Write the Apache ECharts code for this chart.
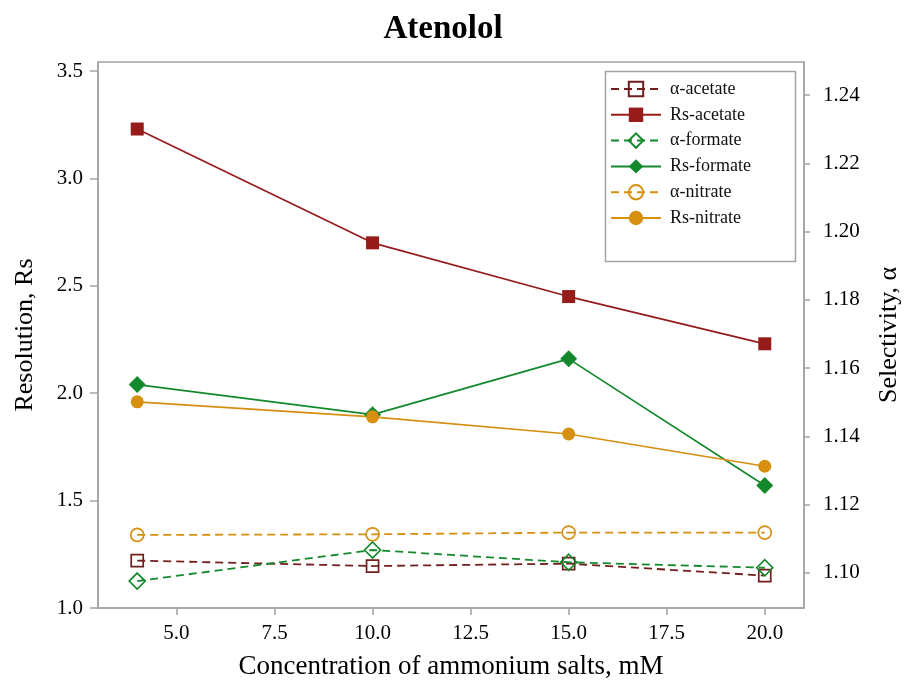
<!DOCTYPE html>
<html>
<head>
<meta charset="utf-8">
<script src="https://cdn.jsdelivr.net/npm/echarts@6/dist/echarts.min.js"></script>
<style>
  html, body { margin: 0; padding: 0; background: #fff; }
  #chart { width: 905px; height: 684px; }
</style>
</head>
<body>
<div id="chart"></div>
<script>
// Salt concentration (mM)
const concentrations = [4, 10, 15, 20];

// Resolution (left axis)
const rsAcetate = [3.23, 2.70, 2.45, 2.23];
const rsFormate = [2.04, 1.90, 2.16, 1.57];
const rsNitrate = [1.96, 1.89, 1.81, 1.66];

// Selectivity (right axis)
const alphaAcetate = [1.1036, 1.1020, 1.1027, 1.0992];
const alphaFormate = [1.0976, 1.1067, 1.1031, 1.1015];
const alphaNitrate = [1.1111, 1.1113, 1.1118, 1.1118];

// Tick labels
const xTicks = [5, 7.5, 10, 12.5, 15, 17.5, 20];
const leftTicks = [1.0, 1.5, 2.0, 2.5, 3.0, 3.5];
const rightTicks = [1.10, 1.12, 1.14, 1.16, 1.18, 1.20, 1.22, 1.24];

const FONT = '"Liberation Serif", "Times New Roman", serif';
const AXIS_GREY = '#a3a3a3';

const C_ACETATE = '#961b1b';
const C_ACETATE_A = '#731e1e';
const C_FORMATE = '#13892c';
const C_NITRATE = '#d68f0e';

const pairs = ys => concentrations.map((x, i) => [x, ys[i]]);

function solid(name, ys, color, symbol, size) {
  return {
    name, type: 'line', yAxisIndex: 0, data: pairs(ys),
    symbol, symbolSize: size,
    itemStyle: { color },
    lineStyle: { color, width: 1.7 },
    emphasis: { disabled: true }
  };
}
function dashed(name, ys, color, symbol, size) {
  return {
    name, type: 'line', yAxisIndex: 1, data: pairs(ys),
    symbol, symbolSize: size,
    itemStyle: { color: 'rgba(255,255,255,0)', borderColor: color, borderWidth: 1.7 },
    lineStyle: { color, width: 1.8, type: [8, 5] },
    emphasis: { disabled: true }
  };
}

const chart = echarts.init(document.getElementById('chart'), null, { renderer: 'canvas' });

chart.setOption({
  animation: false,
  backgroundColor: '#fff',
  title: {
    text: 'Atenolol', left: 438, top: 8, textAlign: 'center',
    textStyle: { fontFamily: FONT, fontWeight: 'bold', fontSize: 33, color: '#000' }
  },
  grid: {
    left: 98, right: 101, top: 62, bottom: 76,
    outerBoundsMode: 'none',
    show: true, borderColor: AXIS_GREY, borderWidth: 1.5, backgroundColor: 'transparent'
  },
  legend: {
    orient: 'vertical', left: 610, top: 80, padding: 0,
    itemWidth: 50, itemHeight: 18, itemGap: 7.8,
    textStyle: { fontFamily: FONT, fontSize: 18, color: '#111', padding: [0, 0, 0, 4] },
    data: ['α-acetate', 'Rs-acetate', 'α-formate', 'Rs-formate', 'α-nitrate', 'Rs-nitrate']
  },
  graphic: [{
    type: 'rect', left: 603, top: 69, z: 0,
    shape: { width: 190, height: 190 },
    style: { fill: 'none', stroke: AXIS_GREY, lineWidth: 1.5 }
  }],
  xAxis: {
    type: 'value', min: 3, max: 21,
    name: 'Concentration of ammonium salts, mM',
    nameLocation: 'middle', nameGap: 45,
    nameTextStyle: { fontFamily: FONT, fontSize: 27, color: '#000' },
    axisLine: { show: true, lineStyle: { color: AXIS_GREY, width: 1.5 } },
    axisTick: { show: true, length: 7, customValues: xTicks, lineStyle: { color: AXIS_GREY, width: 1.5 } },
    axisLabel: {
      customValues: xTicks, margin: 15,
      formatter: v => v.toFixed(1),
      fontFamily: FONT, fontSize: 21, color: '#000'
    },
    splitLine: { show: false }
  },
  yAxis: [{
    type: 'value', position: 'left', min: 1.0, max: 3.542,
    name: 'Resolution, Rs', nameLocation: 'middle', nameGap: 60, nameRotate: 90,
    nameTextStyle: { fontFamily: FONT, fontSize: 26, color: '#000' },
    axisLine: { show: true, lineStyle: { color: AXIS_GREY, width: 1.5 } },
    axisTick: { show: true, length: 8, customValues: leftTicks, lineStyle: { color: AXIS_GREY, width: 1.5 } },
    axisLabel: {
      customValues: leftTicks, margin: 15,
      formatter: v => v.toFixed(1),
      fontFamily: FONT, fontSize: 21, color: '#000'
    },
    splitLine: { show: false }
  }, {
    type: 'value', position: 'right', min: 1.0897, max: 1.2497,
    name: 'Selectivity, α', nameLocation: 'middle', nameGap: 72, nameRotate: 90,
    nameTextStyle: { fontFamily: FONT, fontSize: 26, color: '#000' },
    axisLine: { show: true, lineStyle: { color: AXIS_GREY, width: 1.5 } },
    axisTick: { show: true, length: 6, customValues: rightTicks, lineStyle: { color: AXIS_GREY, width: 1.5 } },
    axisLabel: {
      customValues: rightTicks, margin: 19,
      formatter: v => v.toFixed(2),
      fontFamily: FONT, fontSize: 21, color: '#000'
    },
    splitLine: { show: false }
  }],
  series: [
    dashed('α-acetate', alphaAcetate, C_ACETATE_A, 'rect', 12),
    solid('Rs-acetate', rsAcetate, C_ACETATE, 'rect', 13),
    dashed('α-formate', alphaFormate, C_FORMATE, 'diamond', 16),
    solid('Rs-formate', rsFormate, C_FORMATE, 'diamond', 17),
    dashed('α-nitrate', alphaNitrate, C_NITRATE, 'circle', 13),
    solid('Rs-nitrate', rsNitrate, C_NITRATE, 'circle', 13)
  ]
});
</script>
</body>
</html>
